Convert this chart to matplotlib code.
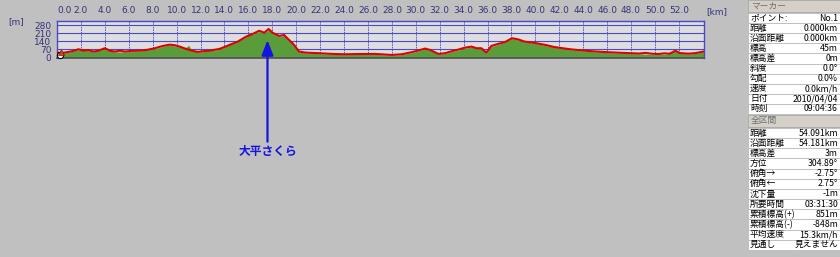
import matplotlib
matplotlib.use("Agg")
import matplotlib.pyplot as plt
from matplotlib.patches import Rectangle

plt.rcParams["font.family"] = ["Noto Sans CJK JP", "DejaVu Sans"]

W, H = 840, 257

# GPS track elevation (red line), km / m
track_km = [0.0, 0.27, 0.83, 1.38, 1.8, 2.2, 2.6, 3.05, 3.46, 4.0, 4.43, 4.85,
            5.27, 5.68, 6.24, 6.93, 7.49, 8.18, 8.87, 9.43, 9.84, 10.26, 10.8,
            11.36, 11.78, 12.2, 12.75, 13.59, 14.42, 15.11, 15.81, 16.36, 16.91,
            17.33, 17.69, 18.02, 18.58, 18.99, 19.41, 19.83, 20.24, 20.8, 21.9,
            23.0, 24.1, 25.2, 26.6, 28.0, 28.84, 29.67, 30.37, 30.78, 31.2,
            31.89, 32.45, 33.0, 33.55, 34.11, 34.66, 35.07, 35.49, 35.9, 36.32,
            36.88, 37.44, 38.04, 38.54, 39.1, 40.0, 41.0, 41.5, 42.0, 43.0,
            44.0, 45.0, 46.0, 47.0, 48.0, 48.7, 49.2, 49.7, 50.3, 50.8, 51.2,
            51.7, 52.1, 52.8, 53.4, 54.09]
track_m = [45, 37, 46, 57, 71, 59, 65, 51, 59, 80, 59, 51,
           59, 51, 57, 59, 65, 80, 100, 111, 106, 94, 74,
           57, 48, 54, 59, 74, 108, 137, 180, 203, 231,
           214, 246, 214, 186, 194, 151, 108, 51, 42, 37,
           31, 28, 30, 31, 22, 28, 46, 65, 77, 65,
           31, 37, 54, 68, 85, 94, 80, 80, 42, 100,
           117, 132, 166, 157, 137, 125, 105, 92, 84, 70,
           60, 52, 46, 41, 37, 34, 40, 33, 30, 36, 32,
           58, 38, 33, 38, 52]

# terrain profile (green fill), km / m
terrain_km = [0.0, 0.8, 1.8, 2.6, 3.0, 4.0, 4.8, 5.7, 6.9, 8.2, 8.9, 9.4,
              10.3, 10.7, 11.0, 11.3, 11.8, 12.2, 12.6, 12.8, 13.0, 13.6,
              14.2, 14.4, 14.7, 15.0, 15.2, 15.8, 16.1, 16.4, 16.9, 17.3,
              17.7, 18.0, 18.6, 19.0, 19.4, 19.8, 20.2, 20.8, 21.9, 23.0,
              24.1, 25.2, 26.6, 28.0, 28.8, 29.7, 30.4, 30.8, 31.2, 31.9,
              32.5, 33.0, 33.6, 34.1, 34.7, 35.1, 35.5, 35.9, 36.3, 36.9,
              37.4, 38.0, 38.5, 39.1, 40.0, 41.0, 42.0, 43.0, 44.0, 45.0,
              46.0, 47.0, 48.0, 49.0, 50.0, 51.0, 51.7, 52.1, 53.0, 54.09]
terrain_m = [40, 42, 66, 60, 48, 75, 48, 48, 55, 76, 96, 108,
             90, 80, 105, 62, 45, 50, 58, 72, 60, 70,
             100, 125, 118, 130, 145, 175, 215, 200, 225, 210,
             240, 210, 180, 190, 145, 105, 48, 38, 33, 27,
             25, 27, 27, 18, 24, 42, 62, 74, 62, 28,
             34, 50, 64, 80, 90, 76, 76, 38, 95, 112,
             128, 162, 153, 133, 122, 100, 80, 66, 56, 48,
             42, 36, 33, 30, 26, 28, 54, 34, 30, 48]

x_ticks = [0, 2, 4, 6, 8, 10, 12, 14, 16, 18, 20, 22, 24, 26, 28, 30, 32,
           34, 36, 38, 40, 42, 44, 46, 48, 50, 52]
y_ticks = [0, 70, 140, 210, 280]

marker_name = "大平さくら"
marker_km = 17.6
marker_tip_m = 150

marker_rows = [
    ("ポイント:", "No.1"),
    ("距離", "0.000km"),
    ("沿面距離", "0.000km"),
    ("標高", "45m"),
    ("標高差", "0m"),
    ("斜度", "0.0°"),
    ("勾配", "0.0%"),
    ("速度", "0.0km/h"),
    ("日付", "2010/04/04"),
    ("時刻", "09:04:36"),
]
section_rows = [
    ("距離", "54.091km"),
    ("沿面距離", "54.181km"),
    ("標高差", "3m"),
    ("方位", "304.89°"),
    ("俯角→", "-2.75°"),
    ("俯角←", "2.75°"),
    ("沈下量", "-1m"),
    ("所要時間", "03:31:30"),
    ("累積標高(+)", "851m"),
    ("累積標高(-)", "-848m"),
    ("平均速度", "15.3km/h"),
    ("見通し", "見えません"),
]

BG = "#c0c0c0"
GRID = "#4a4ac8"
TICK = "#34347a"

fig = plt.figure(figsize=(W / 100, H / 100), dpi=100, facecolor=BG)

# profile axes (pixel box 57..704 x 21..57.5)
ax = fig.add_axes([57 / W, 1 - 57.5 / H, 647 / W, 36.5 / H])
ax.set_facecolor("#dedede")
ax.fill_between(terrain_km, terrain_m, 0, color="#5a9c3a", lw=0, zorder=2)
ax.plot(track_km, track_m, color="#e00000", lw=1.5, zorder=4)
ax.plot([0.25], [22], marker="o", ms=4.5, mfc="white", mec="black", mew=0.8,
        zorder=6, clip_on=False)
ax.plot([0.3], [48], marker="^", ms=4, mfc="#d04020", mec="#802010", mew=0.5,
        zorder=6, clip_on=False)

ax.set_xlim(0, 54.1)
ax.set_ylim(0, 315)
ax.set_xticks(x_ticks)
ax.set_xticklabels([f"{v:.1f}" for v in x_ticks])
ax.set_yticks(y_ticks)
ax.xaxis.tick_top()
ax.tick_params(axis="x", length=0, pad=4, labelsize=6.5, labelcolor=TICK)
ax.tick_params(axis="y", length=0, pad=4, labelsize=6.5, labelcolor=TICK)
ax.get_xticklabels()[0].set_horizontalalignment("left")
for lab in ax.get_xticklabels() + ax.get_yticklabels():
    lab.set_family("DejaVu Sans")

for v in x_ticks[1:]:
    ax.axvline(v, color=GRID, lw=0.6, ls=(0, (2, 1)), zorder=1)
for v in y_ticks[1:]:
    ax.axhline(v, color=GRID, lw=0.8, zorder=1)
for side in ("top", "left", "right"):
    ax.spines[side].set_color(GRID)
    ax.spines[side].set_linewidth(1.0)
ax.spines["bottom"].set_color("#505050")
ax.spines["bottom"].set_linewidth(1.2)

fig.text(8 / W, 1 - 22 / H, "[m]", fontsize=6.5, color=TICK, va="center",
         family="DejaVu Sans")
fig.text(706 / W, 1 - 12 / H, "[km]", fontsize=6.5, color=TICK, va="center",
         family="DejaVu Sans")

# place marker with arrow
ax.annotate(marker_name, xy=(marker_km, marker_tip_m), xycoords="data",
            xytext=(marker_km, 1 - 151 / H), textcoords=("data", "figure fraction"),
            ha="center", va="center", fontsize=8.5, fontweight="bold",
            color="#1414e0", annotation_clip=False, zorder=8,
            arrowprops=dict(arrowstyle="-|>,head_length=0.9,head_width=0.35",
                            color="#1414e0", lw=1.6, shrinkA=0, shrinkB=0,
                            mutation_scale=10))

# info panel on the right
tab = fig.add_axes([748 / W, 0, 92 / W, 1])
tab.set_xlim(0, 92)
tab.set_ylim(H, 0)
tab.axis("off")


def draw_section(title, rows, y_top, row_h):
    tab.add_patch(Rectangle((0, y_top), 92, 12, fc="#d4d0c8", ec="#a8a8a8", lw=0.6))
    tab.text(3, y_top + 6, title, fontsize=6.3, color="#707070", va="center")
    y = y_top + 13
    for lab, val in rows:
        tab.add_patch(Rectangle((0, y), 92, row_h, fc="white", ec="#b4b4b4", lw=0.5))
        tab.text(2, y + row_h / 2, lab, fontsize=6.3, color="black", va="center")
        tab.text(90, y + row_h / 2, val, fontsize=6.3, color="black",
                 va="center", ha="right")
        y += row_h
    return y


y_end = draw_section("マーカー", marker_rows, 0, 10.1)
draw_section("全区間", section_rows, y_end + 1, 10.15)

fig.savefig("out.png", dpi=100, facecolor=BG)
